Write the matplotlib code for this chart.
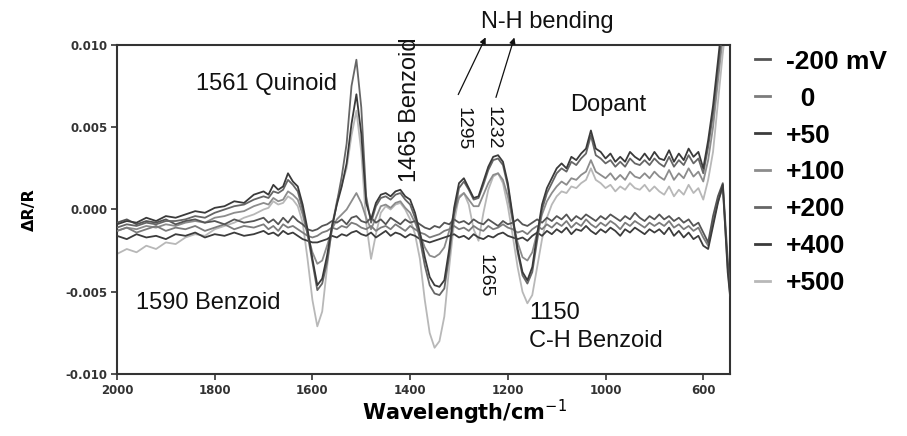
import numpy as np
import matplotlib
matplotlib.use("Agg")
import matplotlib.pyplot as plt
from matplotlib.lines import Line2D

# wavenumber grid (cm-1), shared by every spectrum
wavenumber = [
    2000, 1980, 1960, 1940, 1920, 1900, 1880, 1860, 1840, 1820, 1800, 1780, 1760, 1740, 1720, 1700,
    1690, 1680, 1670, 1660, 1650, 1640, 1630, 1620, 1610, 1600,
    1590, 1580, 1570, 1560, 1550, 1540, 1530, 1520, 1510, 1500,
    1490, 1480, 1470, 1460, 1450, 1440, 1430, 1420, 1410, 1400,
    1390, 1380, 1370, 1360, 1350, 1340, 1330, 1320, 1310, 1300,
    1290, 1280, 1270, 1260, 1250, 1240, 1230, 1220, 1210, 1200,
    1190, 1180, 1170, 1160, 1150, 1140, 1130, 1120, 1110, 1100,
    1090, 1080, 1070, 1060, 1050, 1040, 1030, 1020, 1010, 1000,
    990, 980, 970, 960, 950, 940, 930, 920, 910, 900,
    890, 880, 870, 860, 850, 840, 830, 820, 810, 800,
    790, 780, 770, 760, 750, 745,
]

# dR/R values, in units of 1e-3
m200 = [
    -0.8, -0.6, -0.9, -0.7, -0.8, -0.6, -0.9, -0.7, -0.6, -0.8, -0.7, -0.9, -0.6, -0.8, -0.7, -0.5,
    -0.8, -0.6, -0.9, -0.5, -0.8, -0.4, -0.7, -0.9, -1.2, -1.3,
    -1.2, -1.0, -0.9, -0.7, -0.8, -0.6, -0.9, -0.5, -0.4, -0.7,
    -0.8, -0.5, -0.8, -0.6, -0.9, -0.5, -0.7, -0.9, -0.6, -0.8,
    -0.7, -0.9, -1.1, -1.2, -1.0, -1.1, -0.8, -0.9, -0.6, -0.8,
    -0.7, -0.9, -0.6, -0.8, -0.9, -0.6, -0.8, -1.0, -0.7, -0.9,
    -0.8, -0.6, -0.9, -1.0, -0.8, -0.6, -0.8, -0.5, -0.7, -0.4,
    -0.6, -0.3, -0.7, -0.4, -0.6, -0.3, -0.5, -0.7, -0.4, -0.6,
    -0.3, -0.5, -0.7, -0.4, -0.6, -0.2, -0.5, -0.7, -0.4, -0.6,
    -0.3, -0.6, -0.4, -0.7, -0.5, -0.8, -0.6, -1.0, -0.8, -1.4,
    -2.0, -0.4, 0.8, 1.6, -3.0, -5.0,
]
p0 = [
    -1.3, -1.1, -1.4, -1.2, -1.0, -1.3, -1.1, -1.2, -1.0, -1.3, -1.1, -0.9, -1.2, -1.0, -1.1, -0.9,
    -1.2, -1.0, -1.3, -0.9, -1.1, -1.0, -1.2, -1.4, -1.6, -1.7,
    -1.6, -1.4, -1.3, -1.1, -1.2, -1.0, -1.1, -0.8, -0.9, -1.1,
    -1.2, -1.0, -1.3, -1.1, -1.0, -1.2, -0.9, -1.1, -1.3, -1.0,
    -1.2, -1.4, -1.5, -1.7, -1.6, -1.5, -1.3, -1.2, -1.0, -1.2,
    -1.1, -1.3, -1.0, -1.2, -1.3, -1.0, -1.2, -1.1, -0.9, -1.1,
    -1.2, -1.4, -1.3, -1.5, -1.2, -1.0, -1.2, -0.9, -1.1, -0.8,
    -1.0, -0.7, -1.1, -0.8, -1.0, -0.6, -0.9, -1.1, -0.8, -1.0,
    -0.7, -0.9, -1.2, -0.8, -1.0, -0.7, -0.9, -1.1, -0.8, -1.0,
    -0.8, -1.0, -0.7, -1.1, -0.9, -1.2, -1.0, -1.3, -1.1, -1.7,
    -2.2, -0.8, 0.5, 1.3, -3.5, -5.2,
]
p50 = [
    -1.6, -1.8, -1.5, -1.7, -1.6, -1.8, -1.5, -1.6, -1.4, -1.7, -1.5, -1.6, -1.4, -1.6, -1.5, -1.3,
    -1.5, -1.4, -1.6, -1.3, -1.5, -1.4, -1.6, -1.8, -1.9, -2.0,
    -2.0, -1.9, -1.8, -1.6, -1.7, -1.5, -1.6, -1.4, -1.3, -1.5,
    -1.6, -1.4, -1.7, -1.5, -1.3, -1.6, -1.4, -1.5, -1.7, -1.5,
    -1.6, -1.8, -1.9, -2.0, -1.9, -1.8, -1.7, -1.6, -1.5, -1.7,
    -1.6, -1.8, -1.5, -1.7, -1.8, -1.6, -1.7, -1.5, -1.4, -1.6,
    -1.7, -1.8, -1.7, -1.9, -1.6, -1.4, -1.6, -1.3, -1.5, -1.2,
    -1.4, -1.1, -1.5, -1.2, -1.3, -1.0, -1.3, -1.5, -1.2, -1.4,
    -1.1, -1.3, -1.6, -1.2, -1.4, -1.1, -1.3, -1.5, -1.2, -1.4,
    -1.2, -1.5, -1.1, -1.6, -1.3, -1.7, -1.4, -1.8, -1.6, -2.2,
    -2.4, -1.0, 0.4, 1.5, -3.8, -5.3,
]
p100 = [
    -1.3, -1.1, -1.2, -1.0, -1.1, -0.9, -1.0, -0.8, -0.7, -0.8, -0.5, -0.4, -0.2, -0.1, 0.2, 0.4,
    0.3, 0.7, 0.5, 0.6, 1.1, 0.9, 0.6, -0.3, -1.5, -2.6,
    -3.3, -3.1, -2.2, -1.2, -0.6, -0.3, 0.0, 0.5, 1.0, 0.4,
    -0.5, -1.2, -0.5, 0.2, 0.3, 0.1, 0.4, 0.5, 0.1, -0.2,
    -0.8, -1.5, -2.3, -2.8, -2.9, -2.7, -2.3, -1.3, -0.2, 0.7,
    1.0, 0.6, 0.2, 0.2, 0.9, 1.6, 2.1, 2.2, 1.8, 0.8,
    -0.7, -2.0, -2.9, -3.1, -2.6, -1.4, -0.3, 0.5, 1.0, 1.4,
    1.7, 1.5, 1.9, 1.8, 2.1, 2.3, 3.0, 2.3, 2.1, 1.9,
    2.2, 1.8, 2.1, 1.8, 2.3, 2.0, 1.9, 2.2, 1.9, 2.3,
    2.0, 1.8, 2.4, 1.8, 2.2, 1.9, 2.5, 2.0, 2.3, 1.7,
    3.0, 5.0, 7.8, 10.5, 13.0, 14.0,
]
p200 = [
    -1.1, -0.9, -1.0, -0.8, -0.9, -0.7, -0.7, -0.6, -0.4, -0.5, -0.2, 0.0, 0.2, 0.3, 0.6, 0.8,
    0.7, 1.1, 1.0, 1.2, 1.8, 1.5, 1.1, 0.0, -1.5, -3.2,
    -4.9, -4.5, -3.2, -1.2, 0.4, 2.0, 4.0, 7.5, 9.1, 6.2,
    0.8, -0.8, 0.2, 0.7, 0.8, 0.6, 0.9, 1.0, 0.6, 0.3,
    -0.5, -1.8, -3.4, -4.6, -5.1, -5.2, -4.8, -2.8, -0.3, 1.3,
    1.7, 1.2, 0.6, 0.7, 1.5, 2.4, 3.0, 3.1, 2.7, 1.4,
    -0.6, -2.6, -4.0, -4.5, -3.8, -1.9, 0.0, 1.0, 1.6, 2.2,
    2.5, 2.3, 2.9, 2.7, 3.1, 3.4, 4.5, 3.3, 3.1, 2.8,
    3.0, 2.6, 2.9, 2.6, 3.1, 2.8, 2.7, 3.0, 2.7, 3.1,
    2.8, 2.6, 3.2, 2.6, 3.0, 2.7, 3.3, 2.8, 3.1, 2.2,
    3.8, 5.8, 8.5, 11.2, 13.5, 14.5,
]
p400 = [
    -0.9, -0.7, -0.8, -0.5, -0.7, -0.4, -0.5, -0.3, -0.1, -0.2, 0.1, 0.2, 0.5, 0.4, 0.9, 1.1,
    0.9, 1.5, 1.2, 1.4, 2.2, 1.7, 1.4, 0.3, -1.2, -3.0,
    -4.6, -4.2, -2.8, -1.0, 0.3, 1.4, 2.8, 5.2, 7.0, 4.6,
    0.4, -0.6, 0.4, 0.9, 1.0, 0.8, 1.1, 1.2, 0.8, 0.6,
    -0.2, -1.4, -2.9, -4.1, -4.6, -4.7, -4.3, -2.4, 0.1, 1.6,
    1.9, 1.3, 0.7, 0.8, 1.7, 2.6, 3.2, 3.3, 2.9, 1.6,
    -0.4, -2.4, -3.8, -4.3, -3.5, -1.5, 0.3, 1.3, 1.9, 2.5,
    2.8, 2.5, 3.2, 3.0, 3.4, 3.7, 4.8, 3.7, 3.5, 3.1,
    3.4, 2.9, 3.2, 2.9, 3.5, 3.2, 3.0, 3.4, 3.0, 3.5,
    3.1, 3.0, 3.6, 2.9, 3.4, 3.0, 3.7, 3.2, 3.5, 2.5,
    4.2, 6.3, 9.0, 11.8, 14.0, 15.0,
]
p500 = [
    -2.7, -2.4, -2.6, -2.2, -2.4, -2.0, -2.1, -1.7, -1.5, -1.6, -1.2, -1.0, -0.8, -0.5, -0.3, 0.0,
    0.1, 0.5, 0.3, 0.4, 0.8, 0.6, 0.2, -0.8, -3.0, -5.5,
    -7.1, -6.2, -3.5, -1.0, 0.5, 1.5, 2.5, 4.5, 6.0, 3.5,
    -0.8, -3.0, -1.5, -0.2, 0.2, 0.0, 0.3, 0.4, 0.0, -0.6,
    -1.5, -3.0, -5.5, -7.5, -8.4, -8.0, -6.5, -3.5, -0.8, 0.8,
    1.0, 0.3, -1.2, -1.9, -0.2, 1.2, 2.0, 2.2, 1.6, 0.2,
    -1.6, -3.5, -5.0, -5.7, -5.2, -3.5, -1.8, -0.5, 0.3, 0.8,
    1.1, 1.0, 1.4, 1.3, 1.6, 1.8, 2.5, 1.8, 1.6, 1.3,
    1.5, 1.1, 1.4, 1.2, 1.6, 1.3, 1.2, 1.5, 1.1, 1.4,
    1.1, 0.9, 1.4, 0.8, 1.2, 0.9, 1.5, 1.0, 1.3, 0.6,
    1.8, 3.5, 6.5, 9.5, 12.0, 13.0,
]

series = [m200, p0, p50, p100, p200, p400, p500]
labels = ["-200 mV", "  0", "+50", "+100", "+200", "+400", "+500"]
colors = ["#555555", "#7c7c7c", "#3c3c3c", "#8c8c8c", "#666666", "#3a3a3a", "#b8b8b8"]
zorders = [4, 3, 5, 2, 6, 7, 1]

xticks = [2000, 1800, 1600, 1400, 1200, 1000, 800]
xtick_labels = ["2000", "1800", "1600", "1400", "1200", "1000", "600"]
yticks = [-0.010, -0.005, 0.000, 0.005, 0.010]
ytick_labels = ["-0.010", "-0.005", "0.000", "0.005", "0.010"]

ANNOT_FONT = "Liberation Sans"


def create_chart():
    fig = plt.figure(figsize=(9.07, 4.36), dpi=100)
    ax = fig.add_axes([0.129, 0.142, 0.676, 0.755])

    x = np.array(wavenumber)
    for vals, lab, col, z in zip(series, labels, colors, zorders):
        ax.plot(x, np.array(vals) * 1e-3, color=col, lw=1.3, zorder=z, label=lab)

    ax.set_xlim(2000, 745)
    ax.set_ylim(-0.010, 0.010)

    ax.set_xticks(xticks)
    ax.set_xticklabels(xtick_labels)
    ax.set_yticks(yticks)
    ax.set_yticklabels(ytick_labels)
    ax.tick_params(direction="out", length=4, width=1.2, colors="#333333",
                   labelsize=8.5, pad=3)
    for lbl in ax.get_xticklabels() + ax.get_yticklabels():
        lbl.set_fontweight("bold")
    for sp in ax.spines.values():
        sp.set_linewidth(1.5)
        sp.set_color("#333333")

    ax.set_ylabel("ΔR/R", fontsize=11.5, fontweight="bold", labelpad=20)
    ax.set_xlabel("Wavelength/cm$^{-1}$", fontsize=15, fontweight="bold")
    ax.xaxis.set_label_coords(0.566, -0.072)

    # band annotations
    kw = dict(family=ANNOT_FONT, fontsize=17, color="#111111")
    ax.text(1695, 0.00762, "1561 Quinoid", ha="center", va="center", **kw)
    ax.text(1400, 0.00604, "1465 Benzoid", ha="center", va="center", rotation=90, **kw)
    ax.text(1120, 0.0114, "N-H bending", ha="center", va="center", **kw)
    ax.text(995, 0.00634, "Dopant", ha="center", va="center", **kw)
    ax.text(1814, -0.00567, "1590 Benzoid", ha="center", va="center", **kw)
    ax.text(1157, -0.00628, "1150", ha="left", va="center", **kw)
    ax.text(1157, -0.00799, "C-H Benzoid", ha="left", va="center", **kw)

    kw_small = dict(family=ANNOT_FONT, fontsize=14, color="#111111")
    ax.text(1292, 0.00494, "1295", ha="center", va="center", rotation=-90, **kw_small)
    ax.text(1230, 0.00494, "1232", ha="center", va="center", rotation=-90, **kw_small)
    ax.text(1247, -0.00402, "1265", ha="center", va="center", rotation=-90, **kw_small)

    arrow = dict(arrowstyle="-|>", color="#111111", lw=0.9, mutation_scale=9)
    ax.annotate("", xy=(1243, 0.01061), xytext=(1304, 0.00683),
                arrowprops=arrow, annotation_clip=False)
    ax.annotate("", xy=(1185, 0.01061), xytext=(1226, 0.00665),
                arrowprops=arrow, annotation_clip=False)

    handles = [Line2D([0], [0], color=c, lw=2.0) for c in colors]
    fig.legend(handles, labels, loc="upper left", bbox_to_anchor=(0.832, 0.886),
               frameon=False, handlelength=0.6, handletextpad=0.6,
               borderpad=0, borderaxespad=0, labelspacing=0.49,
               prop={"family": ANNOT_FONT, "weight": "bold", "size": 19})

    fig.savefig("out.png", dpi=100)


def main():
    create_chart()


if __name__ == "__main__":
    main()
